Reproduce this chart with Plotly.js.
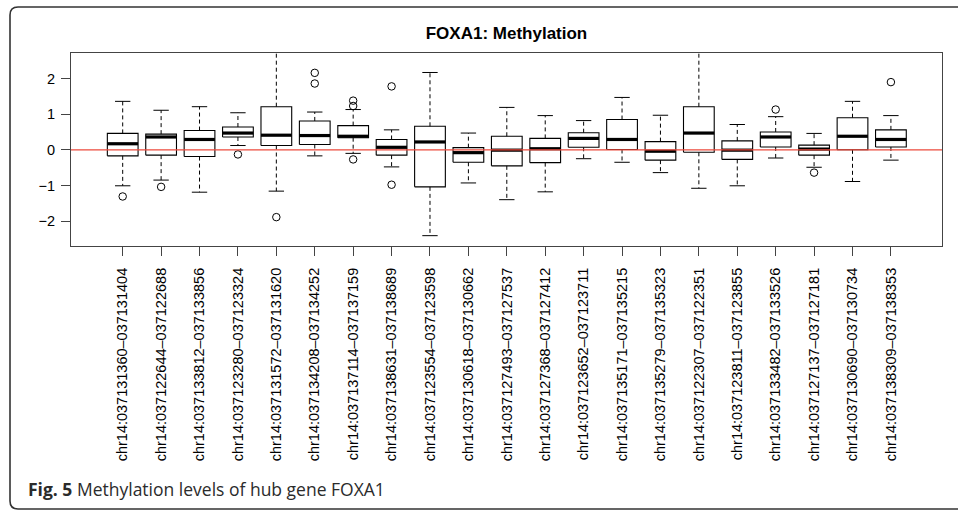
<!DOCTYPE html>
<html>
<head>
<meta charset="utf-8">
<script src="https://cdn.plot.ly/plotly-3.0.1.min.js"></script>
<style>html,body{margin:0;padding:0;background:#fff;}#chart{width:958px;height:511px;}</style>
</head>
<body>
<div id="chart"></div>
<script>
// ---- data ----
const probes = [
  "chr14:037131360–037131404","chr14:037122644–037122688","chr14:037133812–037133856",
  "chr14:037123280–037123324","chr14:037131572–037131620","chr14:037134208–037134252",
  "chr14:037137114–037137159","chr14:037138631–037138689","chr14:037123554–037123598",
  "chr14:037130618–037130662","chr14:037127493–037127537","chr14:037127368–037127412",
  "chr14:037123652–037123711","chr14:037135171–037135215","chr14:037135279–037135323",
  "chr14:037122307–037122351","chr14:037123811–037123855","chr14:037133482–037133526",
  "chr14:037127137–037127181","chr14:037130690–037130734","chr14:037138309–037138353"
];
const lowerWhisker = [-1.01,-0.85,-1.19,0.12,-1.16,-0.17,-0.10,-0.48,-2.41,-0.93,-1.40,-1.18,-0.25,-0.35,-0.64,-1.08,-1.01,-0.23,-0.49,-0.89,-0.29];
const q1Values     = [-0.17,-0.15,-0.19,0.36,0.12,0.15,0.34,-0.15,-1.04,-0.35,-0.45,-0.36,0.07,0.01,-0.29,-0.07,-0.27,0.08,-0.15,0.00,0.08];
const medianValues = [0.17,0.36,0.29,0.47,0.41,0.40,0.38,0.07,0.22,-0.08,-0.01,0.03,0.32,0.29,-0.04,0.47,-0.01,0.36,0.02,0.38,0.29];
const q3Values     = [0.46,0.44,0.54,0.64,1.21,0.81,0.68,0.29,0.66,0.06,0.38,0.32,0.48,0.85,0.23,1.21,0.25,0.50,0.13,0.90,0.56];
const upperWhisker = [1.36,1.11,1.21,1.04,2.90,1.06,1.13,0.56,2.17,0.47,1.19,0.96,0.82,1.47,0.97,2.85,0.71,0.93,0.46,1.36,0.96];
const outlierProbe = [1,2,4,5,6,6,7,7,7,8,8,18,19,21];
const outlierValue = [-1.31,-1.04,-0.13,-1.89,2.16,1.86,1.38,1.23,-0.27,1.78,-0.98,1.13,-0.64,1.90];
const yTicks = [-2,-1,0,1,2];
const chartTitle = "FOXA1: Methylation";
const captionBold = "Fig. 5";
const captionText = "Methylation levels of hub gene FOXA1";

// ---- geometry / styling ----
const W = 958, H = 511;
const M = {l:71, r:16, t:53, b:265};
const PW = W - M.l - M.r, PH = H - M.t - M.b;
const px2x = p => (p - M.l) / PW;
const py2y = p => 1 - (p - M.t) / PH;
const halfBox = 0.4, halfCap = 0.2;
const yRange = [-2.70, 2.717];

const pos = probes.map((_, i) => i + 1);
const bx = [], by = [], wx = [], wy = [], cx = [], cy = [], mx = [], my = [];
pos.forEach((p, i) => {
  bx.push(p-halfBox, p+halfBox, p+halfBox, p-halfBox, p-halfBox, null);
  by.push(q1Values[i], q1Values[i], q3Values[i], q3Values[i], q1Values[i], null);
  wx.push(p, p, null, p, p, null);
  wy.push(q3Values[i], upperWhisker[i], null, q1Values[i], lowerWhisker[i], null);
  cx.push(p-halfCap, p+halfCap, null, p-halfCap, p+halfCap, null);
  cy.push(upperWhisker[i], upperWhisker[i], null, lowerWhisker[i], lowerWhisker[i], null);
  mx.push(p-halfBox, p+halfBox, null);
  my.push(medianValues[i], medianValues[i], null);
});

const traces = [
  {type:'scatter', mode:'lines', x:wx, y:wy, line:{color:'#000', width:1, dash:'4px,3px'}, hoverinfo:'skip'},
  {type:'scatter', mode:'lines', x:cx, y:cy, line:{color:'#000', width:1}, hoverinfo:'skip'},
  {type:'scatter', mode:'lines', x:bx, y:by, line:{color:'#000', width:1.1}, hoverinfo:'skip'},
  {type:'scatter', mode:'lines', x:mx, y:my, line:{color:'#000', width:3.2}, hoverinfo:'skip'},
  {type:'scatter', mode:'markers', x:outlierProbe, y:outlierValue, yaxis:'y2',
   marker:{symbol:'circle-open', size:7.5, color:'#000', line:{width:1, color:'#000'}}, hoverinfo:'skip'}
];

const framePath = () => {
  const xl = px2x(10), xr = px2x(975), yt = py2y(7), yb = py2y(509);
  const xr8 = px2x(18), yt8 = py2y(15), yb8 = py2y(501);
  return `M ${xr},${yt} L ${xr8},${yt} Q ${xl},${yt} ${xl},${yt8} L ${xl},${yb8} Q ${xl},${yb} ${xr8},${yb} L ${xr},${yb}`;
};

const axisFont = {family:'"Liberation Sans", Arial, Helvetica, sans-serif', size:14.5, color:'#000'};

const layout = {
  width: W, height: H,
  margin: M,
  paper_bgcolor:'#fff', plot_bgcolor:'#fff',
  showlegend:false, hovermode:false,
  font:axisFont,
  title:{text:'<b>'+chartTitle+'</b>', font:{family:'"Liberation Sans", Arial, sans-serif', size:17, color:'#000'},
         x:0.5, xref:'paper', y:1-33/H, yref:'container', yanchor:'middle'},
  xaxis:{range:[-0.346, 22.33], tickmode:'array', tickvals:pos, ticktext:probes, tickangle:-90,
         ticks:'outside', ticklen:9, tickwidth:1, tickcolor:'#444', ticklabelstandoff:6,
         showline:true, mirror:true, linecolor:'#444', linewidth:1, showgrid:false, zeroline:false,
         automargin:false, fixedrange:true, tickfont:axisFont},
  yaxis:{range:yRange, tickmode:'array', tickvals:yTicks,
         ticks:'', ticklabelstandoff:12,
         showline:true, mirror:true, linecolor:'#444', linewidth:1, showgrid:false, zeroline:false,
         automargin:false, fixedrange:true, tickfont:axisFont},
  yaxis2:{overlaying:'y', anchor:'x', side:'left', range:yRange, tickmode:'array', tickvals:yTicks,
          ticks:'outside', ticklen:9, tickwidth:1, tickcolor:'#444', showticklabels:false,
          showline:false, showgrid:false, zeroline:false, automargin:false, fixedrange:true},
  shapes:[
    {type:'line', xref:'paper', x0:0, x1:1, yref:'y', y0:0, y1:0, line:{color:'#ec4a3c', width:1.2}, layer:'above'},
    {type:'path', xref:'paper', yref:'paper', path:framePath(), line:{color:'#333', width:1.6}, layer:'above'}
  ],
  annotations:[
    {xref:'paper', yref:'paper', x:px2x(26), y:py2y(489), xanchor:'left', yanchor:'middle', showarrow:false,
     text:'<b>'+captionBold+'</b> '+captionText,
     font:{family:'"Open Sans", "Noto Sans", sans-serif', size:17.5, color:'#2b2b2b'}}
  ]
};

Plotly.newPlot('chart', traces, layout, {displayModeBar:false, staticPlot:true});
</script>
</body>
</html>
